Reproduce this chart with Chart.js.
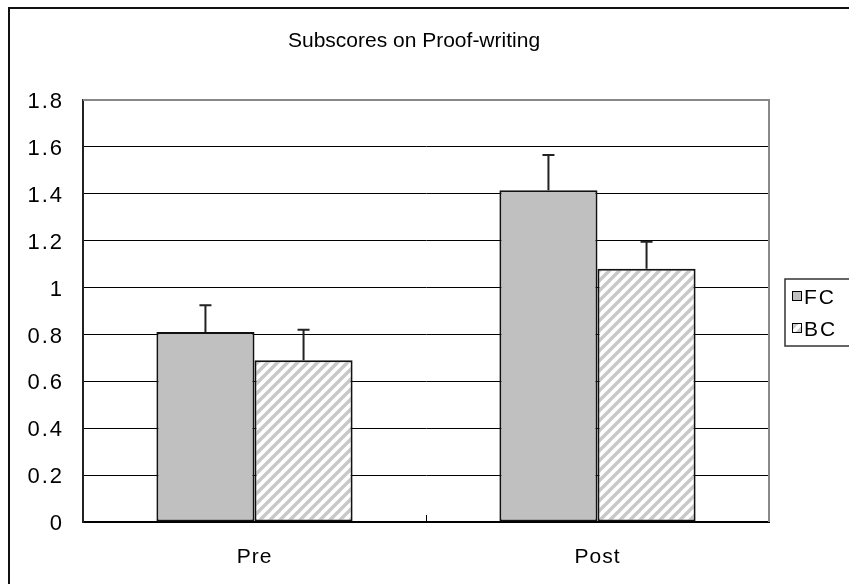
<!DOCTYPE html>
<html><head><meta charset="utf-8">
<script src="https://cdn.jsdelivr.net/npm/chart.js@4"></script>
<style>html,body{margin:0;padding:0;background:#fff}#wrap{width:849px;height:584px;position:relative}</style>
</head><body><div id="wrap"><canvas id="c" width="849" height="584"></canvas></div>
<script>
const titleText = 'Subscores on Proof-writing';
const categories = ['Pre', 'Post'];
const seriesNames = ['FC', 'BC'];
const fcValues = [0.81, 1.415];
const bcValues = [0.69, 1.08];
const fcErrors = [0.115, 0.15];
const bcErrors = [0.13, 0.115];
const yTickValues = [0, 0.2, 0.4, 0.6, 0.8, 1, 1.2, 1.4, 1.6, 1.8];

const FONT = '"Liberation Sans", Arial, sans-serif';

function makeHatch() {
  const s = 10;
  const c = document.createElement('canvas');
  c.width = s; c.height = s;
  const g = c.getContext('2d');
  g.fillStyle = '#ffffff';
  g.fillRect(0, 0, s, s);
  g.strokeStyle = '#c8c8c8';
  g.lineWidth = 3.4;
  g.lineCap = 'square';
  [-s, 0, s].forEach((dx) => {
    g.beginPath();
    g.moveTo(dx, s);
    g.lineTo(dx + s, 0);
    g.stroke();
  });
  return g.createPattern(c, 'repeat');
}

const ctx = document.getElementById('c').getContext('2d');
const hatch = makeHatch();
const fcFill = '#c0c0c0';

const decor = {
  id: 'decor',
  beforeDraw(chart) {
    chart.ctx.letterSpacing = '2px';
  },
  afterDatasetsDraw(chart) {
    const c = chart.ctx;
    const y = chart.scales.y;
    c.save();
    c.strokeStyle = '#222';
    c.lineWidth = 2;
    chart.data.datasets.forEach((ds, i) => {
      const meta = chart.getDatasetMeta(i);
      meta.data.forEach((el, j) => {
        const top = y.getPixelForValue(ds.data[j] + ds.errors[j]);
        c.beginPath();
        c.moveTo(el.x, el.y);
        c.lineTo(el.x, top);
        c.moveTo(el.x - 6, top);
        c.lineTo(el.x + 6, top);
        c.stroke();
      });
    });
    c.restore();
    c.letterSpacing = '1px';
  },
  afterDraw(chart) {
    const c = chart.ctx;
    const a = chart.chartArea;
    const x = chart.scales.x;
    c.save();
    // plot frame top/right
    c.strokeStyle = '#888';
    c.lineWidth = 2;
    c.beginPath();
    c.moveTo(a.left, a.top);
    c.lineTo(a.right, a.top);
    c.lineTo(a.right, a.bottom);
    c.stroke();
    // category separator tick
    c.strokeStyle = '#000';
    c.lineWidth = 1;
    for (let i = 0; i < categories.length - 1; i++) {
      const px = Math.round((x.getPixelForValue(i) + x.getPixelForValue(i + 1)) / 2) + 0.5;
      c.beginPath();
      c.moveTo(px, a.bottom);
      c.lineTo(px, a.bottom - 7);
      c.stroke();
    }
    // outer border
    c.strokeStyle = '#111';
    c.lineWidth = 2;
    c.beginPath();
    c.moveTo(9, 590);
    c.lineTo(9, 8);
    c.lineTo(860, 8);
    c.stroke();
    // title
    c.fillStyle = '#000';
    c.font = '21px ' + FONT;
    c.letterSpacing = '0px';
    c.textAlign = 'center';
    c.textBaseline = 'alphabetic';
    c.fillText(titleText, 414, 46.5);
    // legend
    c.strokeStyle = '#333';
    c.lineWidth = 1.5;
    c.strokeRect(785, 279, 90, 67);
    const ys = [291, 323];
    chart.data.datasets.forEach((ds, i) => {
      c.fillStyle = ds.backgroundColor;
      c.fillRect(792, ys[i], 10, 10);
      c.strokeStyle = '#000';
      c.lineWidth = 1;
      c.strokeRect(792.5, ys[i] + 0.5, 9, 9);
      c.fillStyle = '#000';
      c.font = '21px ' + FONT;
      c.letterSpacing = '2px';
      c.textAlign = 'left';
      c.fillText(ds.label, 804, ys[i] + 13);
    });
    c.restore();
  }
};

new Chart(ctx, {
  type: 'bar',
  data: {
    labels: categories,
    datasets: [
      { label: seriesNames[0], data: fcValues, errors: fcErrors, backgroundColor: fcFill,
        borderColor: '#111', borderWidth: 2, borderSkipped: false },
      { label: seriesNames[1], data: bcValues, errors: bcErrors, backgroundColor: hatch,
        borderColor: '#111', borderWidth: 2, borderSkipped: false }
    ]
  },
  options: {
    responsive: false,
    animation: false,
    devicePixelRatio: 1,
    layout: { padding: { left: 0, right: 80, top: 100, bottom: 0 } },
    datasets: { bar: { categoryPercentage: 0.572, barPercentage: 1 } },
    plugins: { legend: { display: false }, title: { display: false }, tooltip: { enabled: false } },
    scales: {
      x: {
        grid: { display: false, drawTicks: false },
        border: { display: true, color: '#000', width: 2 },
        ticks: { color: '#000', font: { family: FONT, size: 21 }, padding: 23, z: 1 },
        afterFit(s) { s.height = 62; }
      },
      y: {
        min: 0, max: 1.8,
        afterBuildTicks(s) { s.ticks = yTickValues.map(v => ({ value: v })); },
        grid: { color: '#000', lineWidth: 1, drawTicks: false },
        border: { display: true, color: '#222', width: 2 },
        ticks: { color: '#000', font: { family: FONT, size: 22 }, padding: 19, labelOffset: 2,
          callback: v => String(Math.round(v * 10) / 10) },
        afterFit(s) { s.width = 83; }
      }
    }
  },
  plugins: [decor]
});
</script></body></html>
